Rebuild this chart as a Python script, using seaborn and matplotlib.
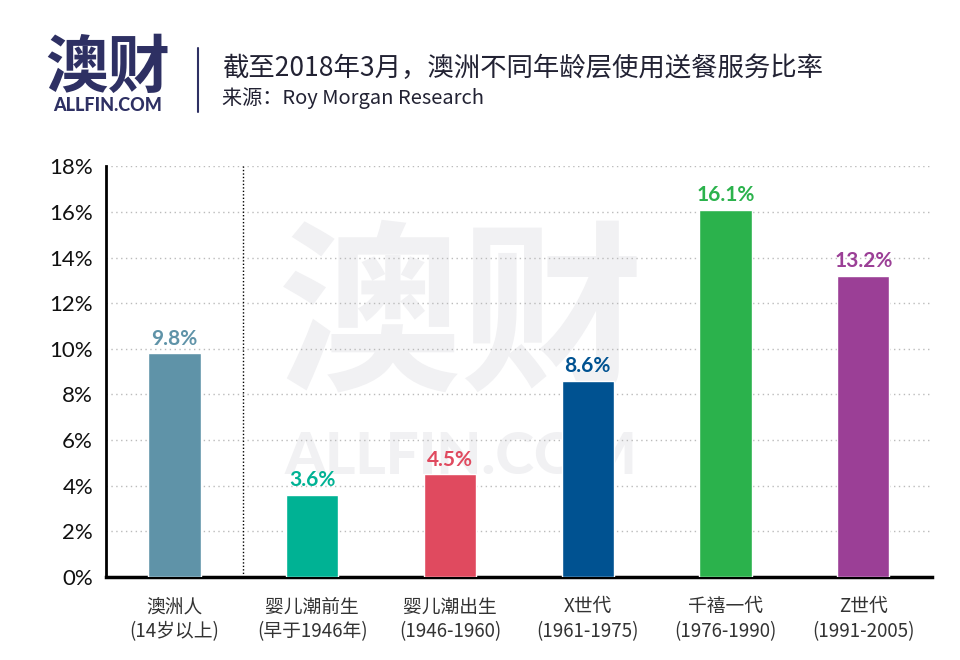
import numpy as np
import pandas as pd
import matplotlib
matplotlib.use("Agg")
import matplotlib.pyplot as plt
import seaborn as sns

# --- data ---
groups = ["澳洲人\n(14岁以上)", "婴儿潮前生\n(早于1946年)", "婴儿潮出生\n(1946-1960)",
          "X世代\n(1961-1975)", "千禧一代\n(1976-1990)", "Z世代\n(1991-2005)"]
rates = [9.8, 3.6, 4.5, 8.6, 16.1, 13.2]
colors = ["#5f93a8", "#00b294", "#e04a5f", "#005291", "#2bb24c", "#9b3f96"]
y_ticks = [0, 2, 4, 6, 8, 10, 12, 14, 16, 18]

title = "截至2018年3月，澳洲不同年龄层使用送餐服务比率"
source = "来源：Roy Morgan Research"

df = pd.DataFrame({"group": groups, "rate": rates})

sns.set_theme(style="white")
plt.rcParams["font.family"] = ["Noto Sans CJK SC", "DejaVu Sans"]
NUM_FONT = ["Lato", "DejaVu Sans"]

fig = plt.figure(figsize=(9.6, 6.6), dpi=100)
ax = fig.add_axes([0.110, 0.126, 0.861, 0.622])

# faint watermark behind everything
ax.text(0.43, 0.62, "澳财", transform=ax.transAxes, ha="center", va="center",
        fontsize=132, fontweight="bold", color="#f1f1f3", zorder=0.1)
ax.text(0.43, 0.29, "ALLFIN.COM", transform=ax.transAxes, ha="center", va="center",
        fontsize=42, fontweight="black", color="#f1f1f3", family=NUM_FONT, zorder=0.1)

sns.barplot(data=df, x="group", y="rate", hue="group", palette=colors,
            width=0.38, legend=False, saturation=1, ax=ax, zorder=3)

for i, v in enumerate(rates):
    ax.text(i, v + 0.2, f"{v:.1f}%", ha="center", va="bottom", color=colors[i],
            fontsize=15, fontweight="bold", family=NUM_FONT, zorder=4)

ax.set_xlim(-0.5, len(groups) - 0.5)
ax.set_ylim(0, 18)
ax.set_yticks(y_ticks)
ax.set_yticklabels([f"{t}%" for t in y_ticks], family=NUM_FONT, fontsize=16, color="#111111")
ax.set_xlabel("")
ax.set_ylabel("")

# category labels in the middle, tick marks at the boundaries
ax.set_xticks(range(len(groups)))
ax.set_xticklabels(groups, fontsize=13.5, color="#333333", linespacing=1.25)
ax.set_xticks(np.arange(-0.5, len(groups), 1.0), minor=True)
ax.tick_params(axis="x", which="major", length=0, pad=14)
ax.tick_params(axis="x", which="minor", length=6, width=1.5, color="black", direction="out")
ax.tick_params(axis="y", length=5, width=1.5, color="black", direction="out", pad=4)

ax.yaxis.grid(True, linestyle=(0, (1, 2.5)), color="#bbbbbb", linewidth=1)
ax.set_axisbelow(True)
ax.axvline(0.5, color="black", linestyle=(0, (1, 1.5)), linewidth=1, zorder=2)

for s in ["top", "right"]:
    ax.spines[s].set_visible(False)
ax.spines["left"].set_color("black")
ax.spines["left"].set_linewidth(2)
ax.spines["bottom"].set_color("black")
ax.spines["bottom"].set_linewidth(2.5)

# header: logo, separator, title and source
fig.text(0.112, 0.897, "澳财", ha="center", va="center", fontsize=45,
         fontweight="black", color="#2e3063")
fig.text(0.112, 0.840, "ALLFIN.COM", ha="center", va="center", fontsize=13,
         fontweight="black", color="#2e3063", family=NUM_FONT)
fig.add_artist(plt.Line2D([0.206, 0.206], [0.83, 0.928], color="#2e3063", linewidth=1.5))
fig.text(0.231, 0.897, title, ha="left", va="center", fontsize=19, color="#222233")
fig.text(0.231, 0.851, source, ha="left", va="center", fontsize=14.5, color="#222233")

fig.savefig("out.png", dpi=100)
